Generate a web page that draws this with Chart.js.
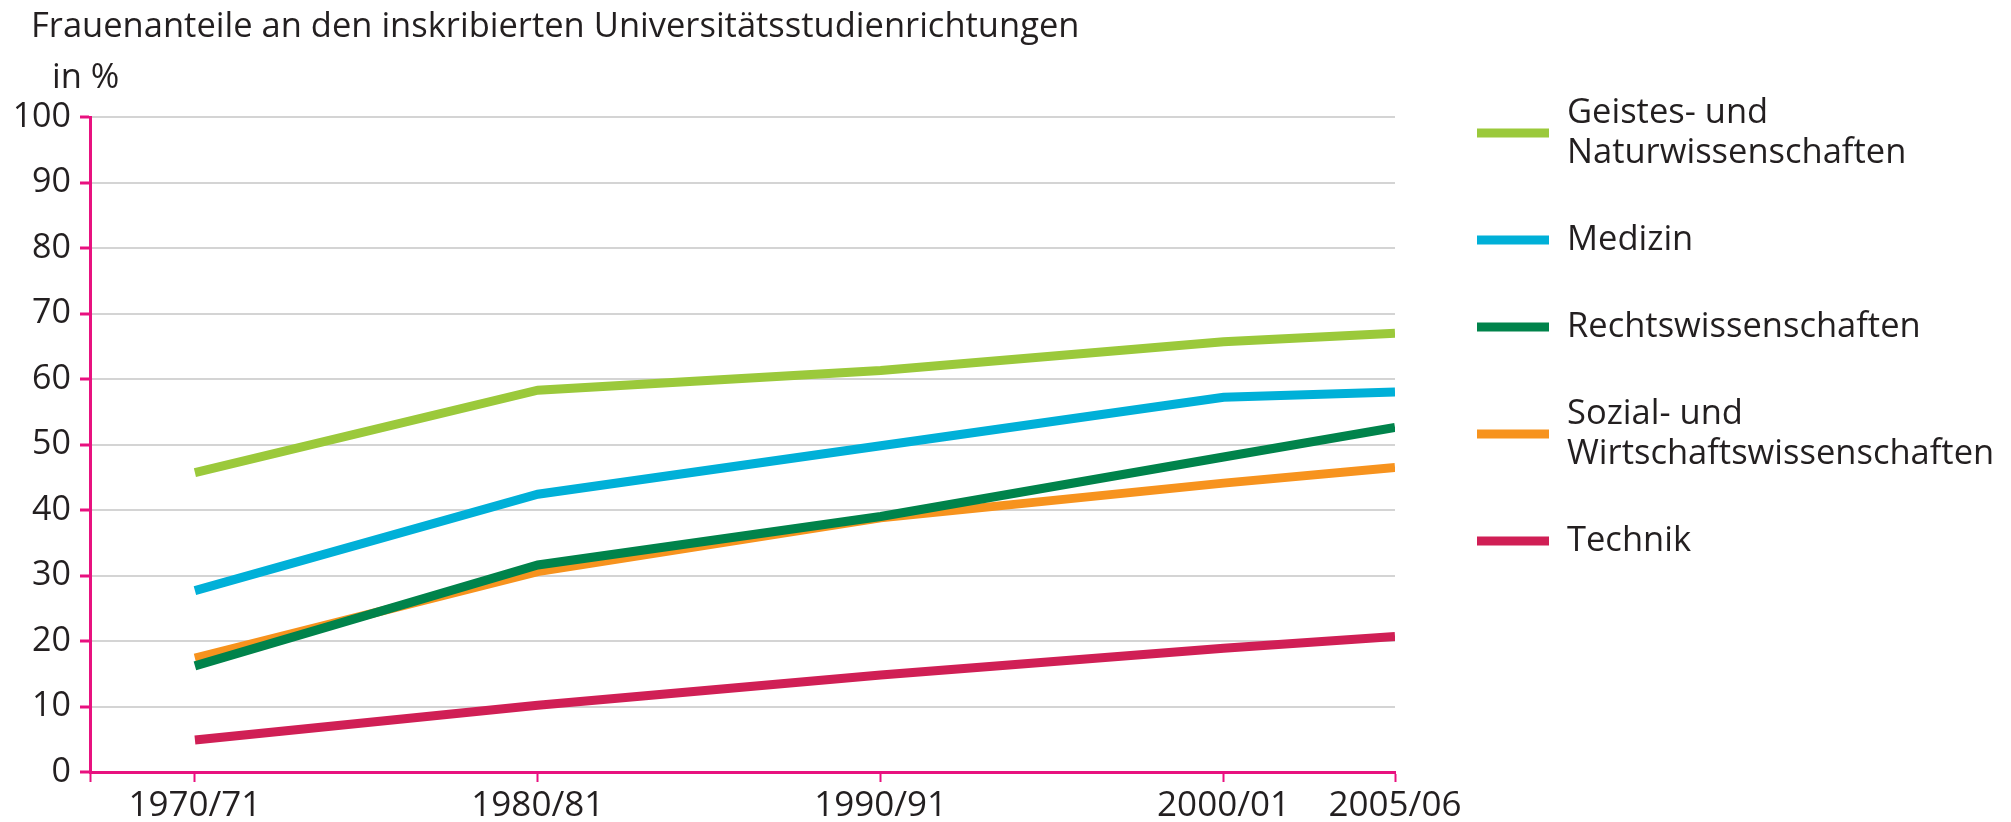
<!DOCTYPE html>
<html>
<head>
<meta charset="utf-8">
<script src="https://cdn.jsdelivr.net/npm/chart.js@4.4.1/dist/chart.umd.min.js"></script>
<style>
  html, body { margin: 0; padding: 0; background: #fff; }
  #wrap { width: 2011px; height: 822px; }
</style>
</head>
<body>
<div id="wrap"><canvas id="frauen-line" width="2011" height="822"></canvas></div>
<script>
/* Frauenanteile an Studienrichtungen */
const years = [1970, 1980, 1990, 2000, 2005];
const yearLabels = ['1970/71', '1980/81', '1990/91', '2000/01', '2005/06'];

const geistesNatur = [45.7, 58.3, 61.3, 65.7, 67.0];
const medizin = [27.7, 42.4, 49.8, 57.2, 58.0];
const recht = [16.2, 31.6, 39.0, 48.1, 52.6];
const sozialWirtschaft = [17.4, 30.6, 38.8, 44.1, 46.5];
const technik = [4.9, 10.2, 14.8, 18.9, 20.7];

const seriesNames = [
    ['Geistes- und', 'Naturwissenschaften'],
    ['Medizin'],
    ['Rechtswissenschaften'],
    ['Sozial- und', 'Wirtschaftswissenschaften'],
    ['Technik']
];
const seriesValues = [geistesNatur, medizin, recht, sozialWirtschaft, technik];
const seriesColors = ['#9bc93b', '#00b0d8', '#00834b', '#f7931e', '#d01f55'];

const pink = '#e8117f';
const textColor = '#231f20';
const font = '"Open Sans", "DejaVu Sans", sans-serif';
const xMin = 1966.94;

function toPoints(values) {
    return values.map(function(v, i) { return { x: years[i], y: v }; });
}

const datasets = seriesValues.map(function(values, i) {
    return {
        label: seriesNames[i].join(' '),
        data: toPoints(values),
        borderColor: seriesColors[i],
        backgroundColor: seriesColors[i],
        borderWidth: 9,
        borderCapStyle: 'butt',
        pointRadius: 0,
        tension: 0,
        fill: false
    };
});

// title and custom legend on the right
const decorPlugin = {
    id: 'decor',
    afterDraw: function(chart) {
        const ctx = chart.ctx;
        ctx.save();
        ctx.fillStyle = textColor;
        ctx.textAlign = 'left';
        ctx.textBaseline = 'alphabetic';
        ctx.font = '34.5px ' + font;
        ctx.fillText('Frauenanteile an den inskribierten Universitätsstudienrichtungen', 31, 37);
        ctx.fillText('in %', 52, 88);

        const lineH = 40;
        const gap = 47;
        let top = 133 - lineH;
        ctx.font = '34.5px ' + font;
        ctx.textBaseline = 'middle';
        seriesNames.forEach(function(lines, i) {
            const h = lines.length * lineH;
            const cy = top + h / 2;
            ctx.fillStyle = seriesColors[i];
            ctx.fillRect(1477, cy - 4.5, 72, 9);
            ctx.fillStyle = textColor;
            lines.forEach(function(t, j) {
                ctx.fillText(t, 1567, cy + (j - (lines.length - 1) / 2) * lineH);
            });
            top += h + gap;
        });
        ctx.restore();
    }
};

const ctx_frauen = document.getElementById('frauen-line').getContext('2d');
const frauenChart = new Chart(ctx_frauen, {
    type: 'line',
    data: { datasets: datasets },
    plugins: [decorPlugin],
    options: {
        responsive: false,
        animation: false,
        devicePixelRatio: 1,
        layout: { padding: { left: 0, top: 117, right: 616, bottom: 0 } },
        plugins: {
            legend: { display: false },
            tooltip: { enabled: false }
        },
        scales: {
            x: {
                type: 'linear',
                min: xMin,
                max: 2005,
                afterBuildTicks: function(scale) {
                    scale.ticks = [xMin].concat(years).map(function(v) { return { value: v }; });
                },
                afterFit: function(scale) { scale.height = 50; },
                ticks: {
                    autoSkip: false,
                    maxRotation: 0,
                    padding: 3,
                    color: textColor,
                    font: { family: font, size: 35 },
                    callback: function(value, index) {
                        return index === 0 ? '' : yearLabels[index - 1];
                    }
                },
                grid: {
                    drawOnChartArea: false,
                    tickLength: 10,
                    tickColor: pink,
                    tickWidth: 2
                },
                border: { color: pink, width: 3 }
            },
            y: {
                min: 0,
                max: 100,
                afterFit: function(scale) { scale.width = 90; },
                ticks: {
                    stepSize: 10,
                    padding: 9,
                    color: textColor,
                    font: { family: font, size: 34 }
                },
                grid: {
                    color: '#d4d4d4',
                    lineWidth: 2,
                    tickLength: 10,
                    tickColor: pink,
                    tickWidth: 3
                },
                border: { color: pink, width: 3 }
            }
        }
    }
});
</script>
</body>
</html>
